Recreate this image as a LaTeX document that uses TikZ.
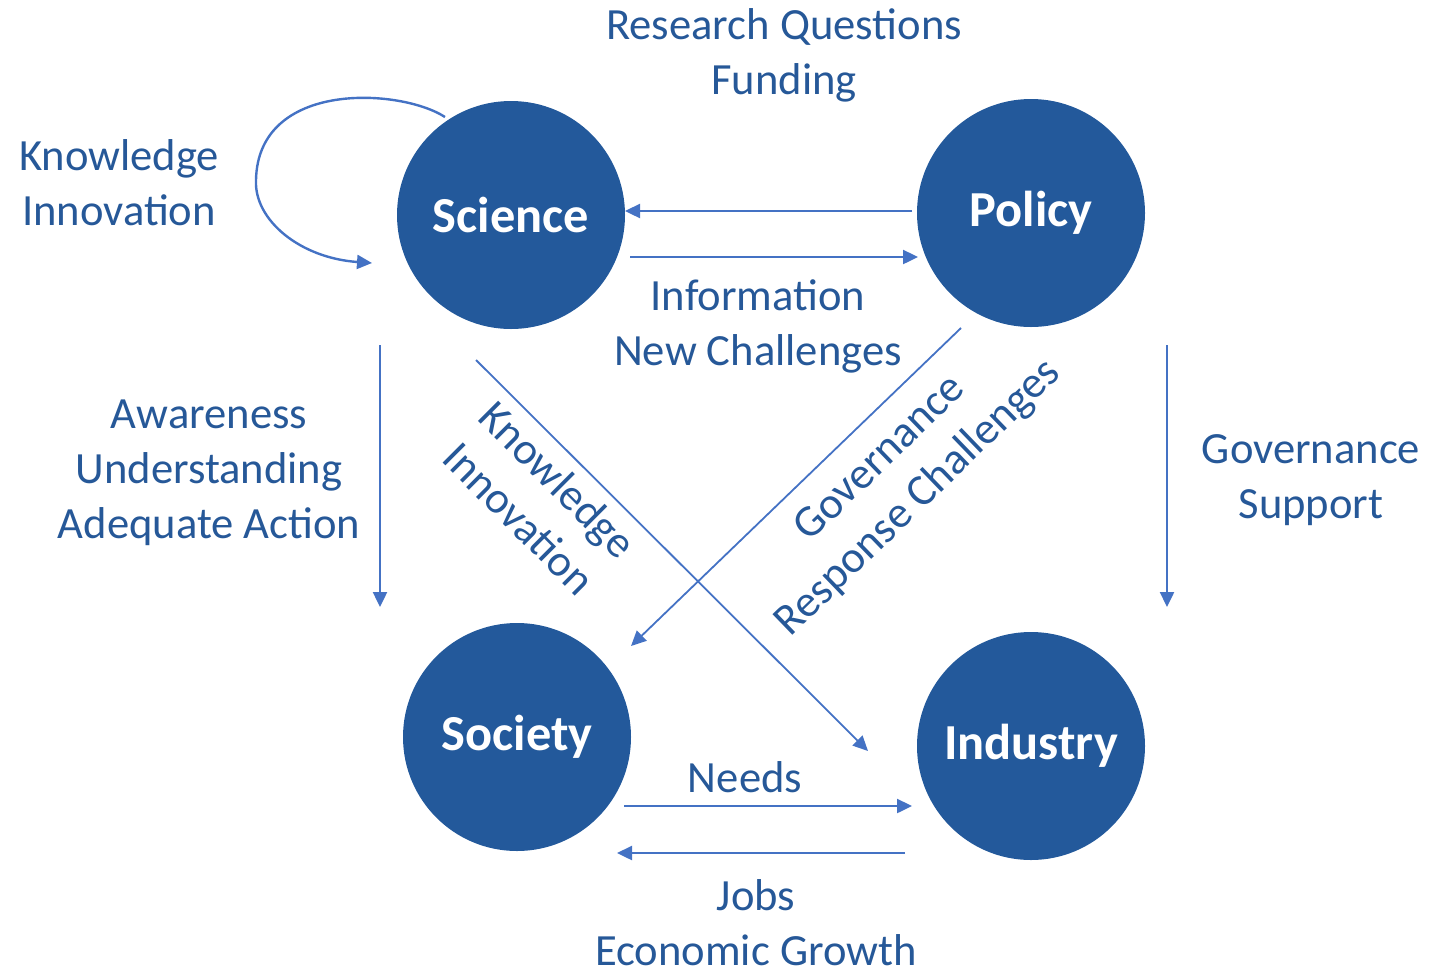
\documentclass[tikz,border=0pt]{standalone}
\usepackage{fontspec}
\setmainfont{Carlito}
\usetikzlibrary{arrows.meta}
\definecolor{circ}{RGB}{35,89,155}
\definecolor{txt}{RGB}{38,88,152}
\definecolor{arr}{RGB}{68,114,196}
\newcommand{\hubtxt}[1]{\raisebox{-1.5pt}{#1}}
\begin{document}
\begin{tikzpicture}[x=0.5pt,y=-0.5pt,
  hub/.style={circle,fill=circ,minimum size=114pt,inner sep=0pt,text=white,font=\fontsize{25.2}{30}\selectfont\bfseries},
  lbl/.style={text=txt,align=center,inner sep=0pt,font=\fontsize{22.3}{27.5}\selectfont},
  conn/.style={draw=arr,line width=1.2pt,-{Triangle[length=7.5pt,width=7pt]}},
  thin/.style={draw=arr,line width=0.9pt,-{Triangle[length=7.5pt,width=7pt]}}]
\useasboundingbox (0,0) rectangle (1429,970);
\node[hub] (sci) at (511,215) {\hubtxt{Science}};
\node[hub] (pol) at (1031,213) {\hubtxt{Policy}};
\node[hub] (soc) at (517,737) {\hubtxt{Society}};
\node[hub] (ind) at (1031,746) {\hubtxt{Industry}};
% endpoints
\coordinate (ps1) at (912,211); \coordinate (ps2) at (625,211);
\coordinate (sp1) at (630,257); \coordinate (sp2) at (918,257);
\coordinate (si1) at (624,806); \coordinate (si2) at (912,806);
\coordinate (is1) at (905,853); \coordinate (is2) at (617,853);
\coordinate (sd1) at (380,345); \coordinate (sd2) at (380,607);
\coordinate (pd1) at (1167,345); \coordinate (pd2) at (1167,607);
\coordinate (dg1) at (476,360); \coordinate (dg2) at (868,751);
\coordinate (pg1) at (961,328); \coordinate (pg2) at (631,646);
\coordinate (lp1) at (445,117); \coordinate (lpm) at (256,180); \coordinate (lp2) at (372,263);
\draw[conn] (ps1) -- (ps2);
\draw[conn] (sp1) -- (sp2);
\draw[conn] (si1) -- (si2);
\draw[conn] (is1) -- (is2);
\draw[conn] (sd1) -- (sd2);
\draw[conn] (pd1) -- (pd2);
\draw[thin] (dg1) -- (dg2);
\draw[thin] (pg1) -- (pg2);
\draw[conn] (lp1) .. controls (400,88) and (258,80) .. (lpm) .. controls (254,220) and (300,258) .. (lp2);
% labels
\node[lbl] (rq) at (784,55) {Research Questions\\Funding};
\node[lbl] (kn) at (119,183) {Knowledge\\Innovation};
\node[lbl] (inf) at (758,326) {Information\\New Challenges};
\node[lbl] (aw) at (209,473) {Awareness\\Understanding\\Adequate Action};
\node[lbl] (gs) at (1311,480) {Governance\\Support};
\node[lbl] (nd) at (745,777) {Needs};
\node[lbl] (jb) at (756,923) {Jobs\\Economic Growth};
\node[lbl,rotate=-45] (kd) at (539,499) {Knowledge\\Innovation};
\node[lbl,rotate=44] (gr) at (900,479) {Governance\\Response Challenges};
\end{tikzpicture}
\end{document}
